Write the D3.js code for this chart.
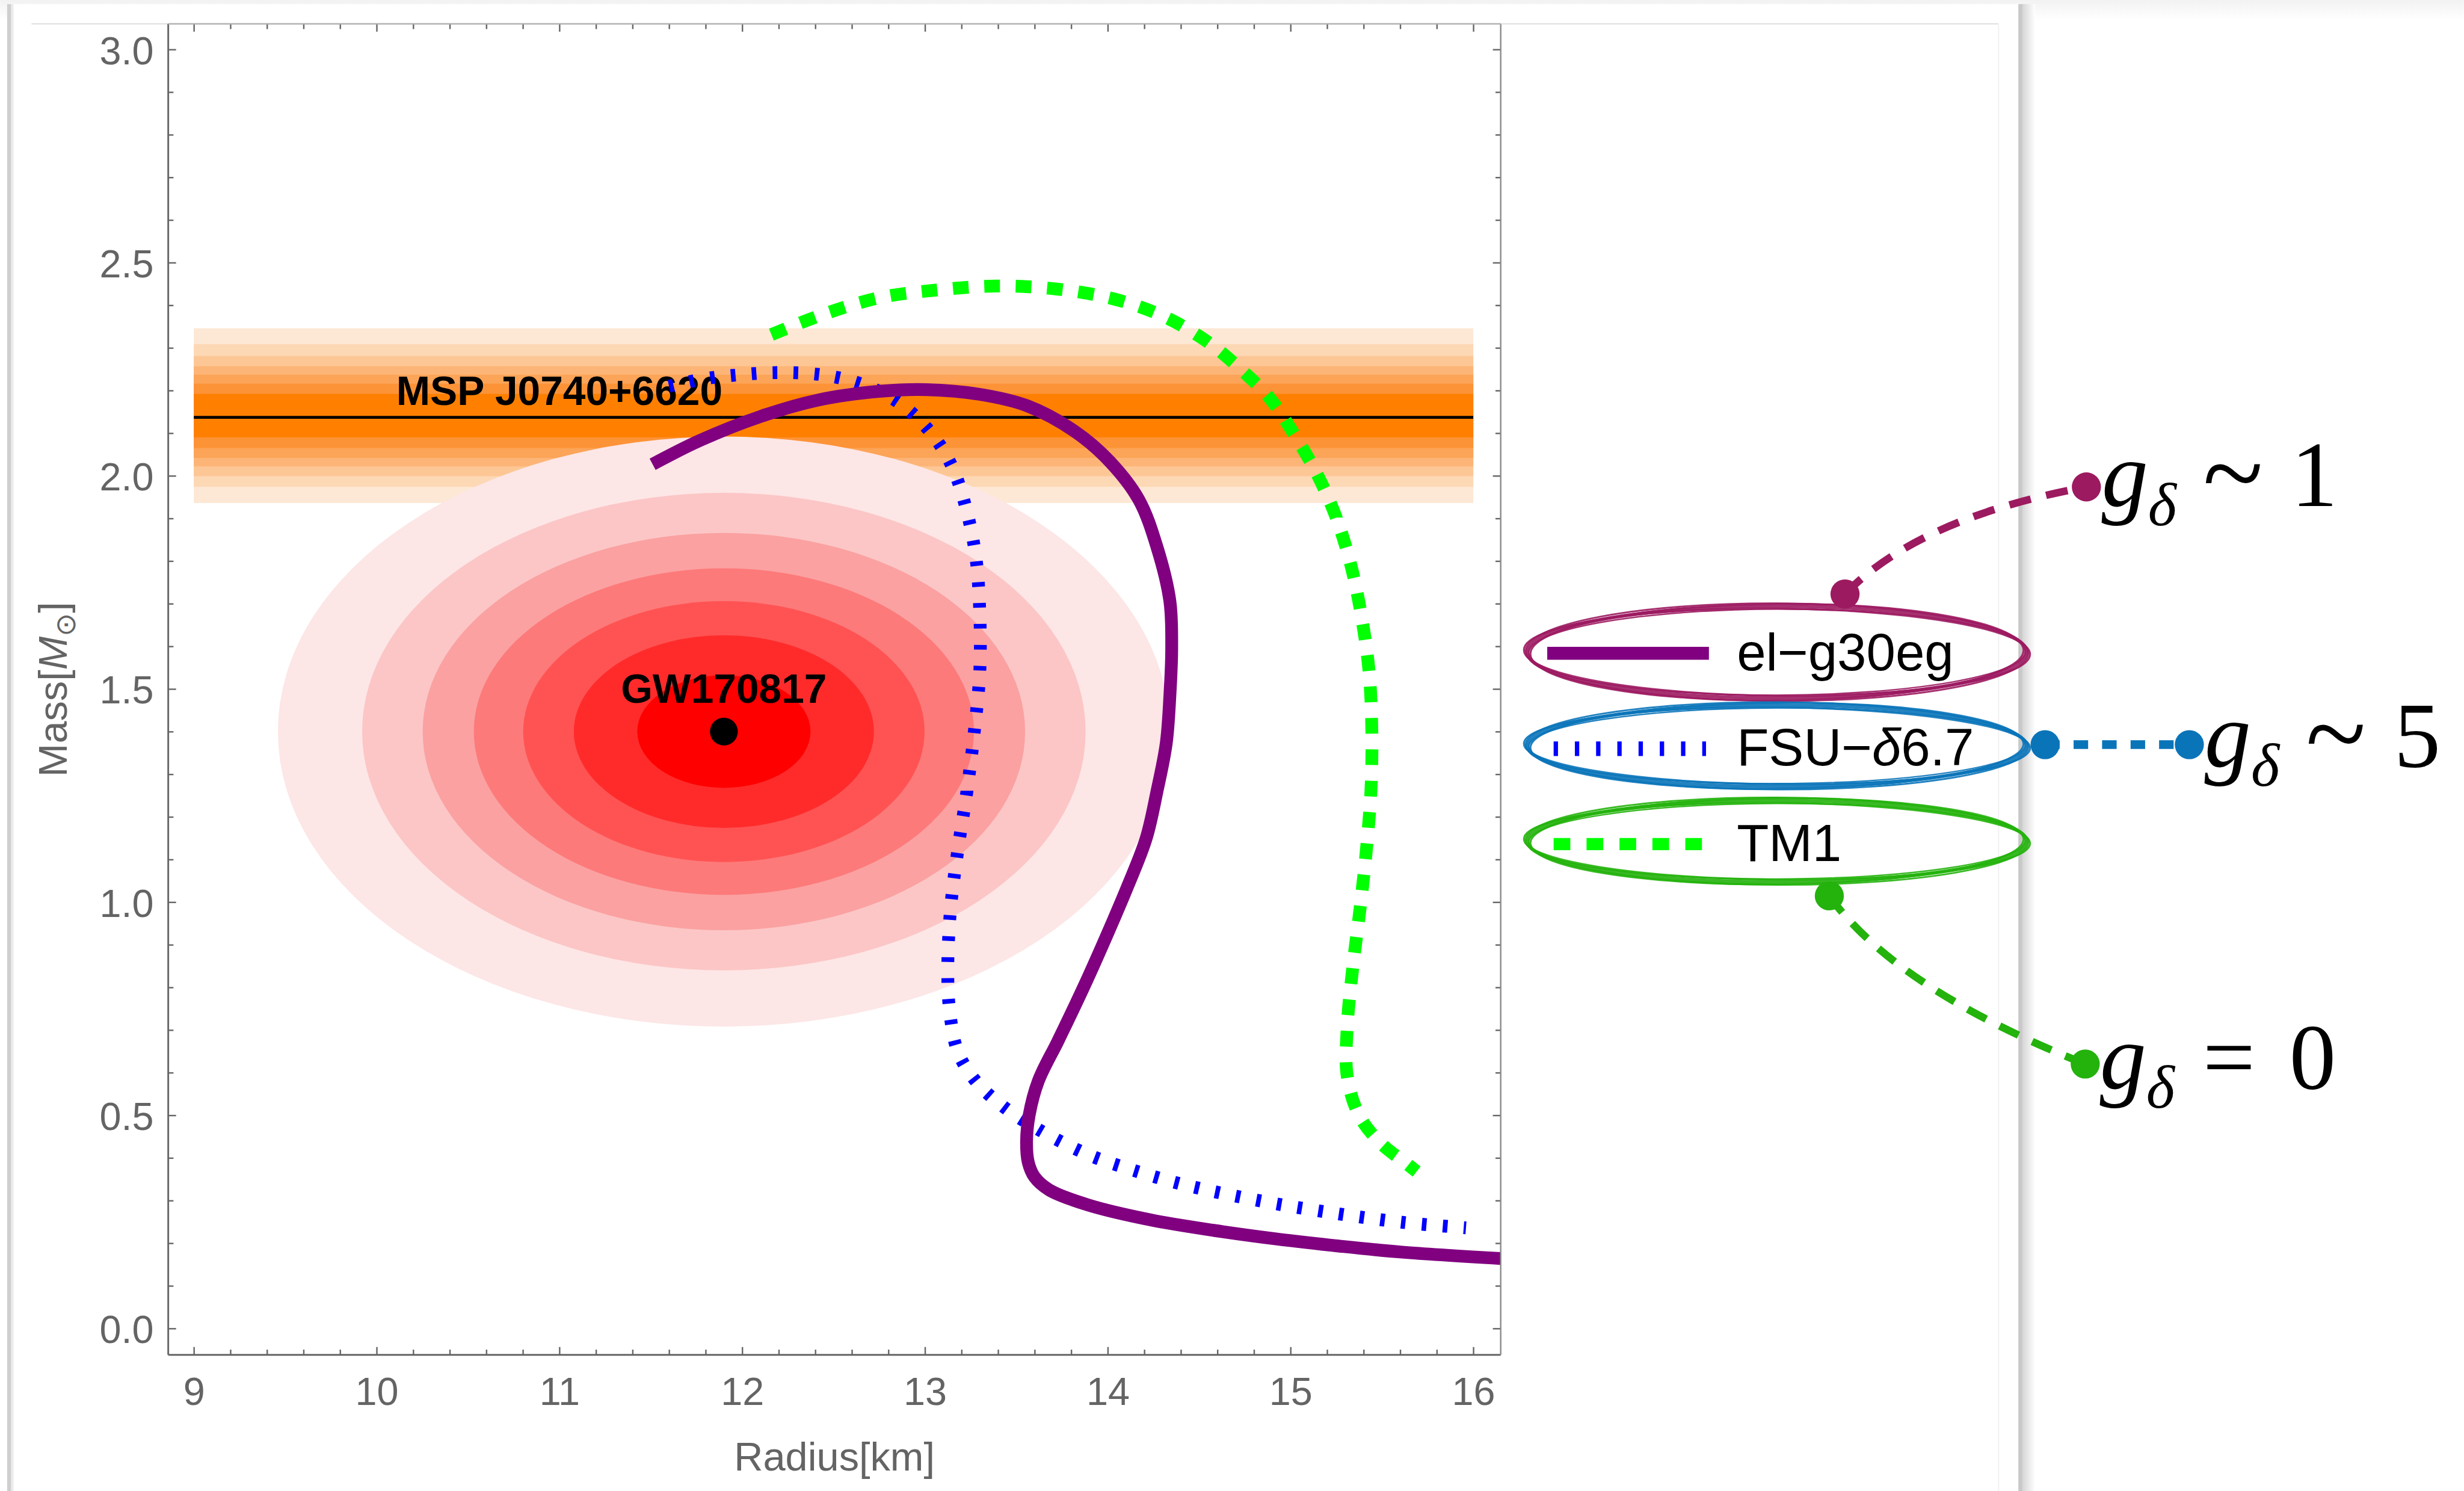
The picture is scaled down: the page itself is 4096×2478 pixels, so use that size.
<!DOCTYPE html>
<html>
<head>
<meta charset="utf-8">
<script src="https://cdn.jsdelivr.net/npm/d3@7"></script>
<style>
  html, body { margin: 0; padding: 0; background: #fff; overflow: hidden; }
</style>
</head>
<body>
<div id="chart"></div>
<script>
// ---- data ----
const radiusTicks = [9, 10, 11, 12, 13, 14, 15, 16];
const massTicks = [0.0, 0.5, 1.0, 1.5, 2.0, 2.5, 3.0];

// el-g30eg (solid purple)
const elRadius = [11.51, 11.77, 12.10, 12.42, 12.75, 13.01, 13.30, 13.56, 13.82, 14.01, 14.17, 14.27, 14.34, 14.35, 14.34, 14.32, 14.27, 14.21, 14.11, 14.00, 13.87, 13.73, 13.62, 13.57, 13.556, 13.565, 13.60, 13.68, 13.89, 14.23, 14.58, 14.92, 15.27, 15.61, 16.15];
const elMass   = [2.027, 2.083, 2.139, 2.178, 2.198, 2.202, 2.191, 2.164, 2.104, 2.034, 1.944, 1.832, 1.706, 1.596, 1.484, 1.372, 1.261, 1.149, 1.038, 0.927, 0.802, 0.676, 0.580, 0.500, 0.440, 0.390, 0.355, 0.325, 0.290, 0.255, 0.230, 0.210, 0.193, 0.179, 0.164];

// FSU-δ6.7 (dotted blue)
const fsuRadius = [11.60, 11.80, 11.965, 12.19, 12.45, 12.68, 12.875, 13.04, 13.15, 13.23, 13.28, 13.30, 13.30, 13.27, 13.23, 13.18, 13.14, 13.125, 13.135, 13.18, 13.28, 13.43, 13.62, 13.88, 14.06, 14.40, 14.85, 15.26, 15.61, 15.96];
const fsuMass   = [2.210, 2.228, 2.236, 2.242, 2.236, 2.211, 2.166, 2.097, 2.020, 1.915, 1.804, 1.679, 1.540, 1.400, 1.261, 1.122, 0.983, 0.844, 0.746, 0.649, 0.579, 0.520, 0.467, 0.410, 0.382, 0.339, 0.298, 0.269, 0.249, 0.236];

// TM1 (dashed green)
const tm1Radius = [12.16, 12.42, 12.745, 13.07, 13.39, 13.72, 14.04, 14.30, 14.53, 14.73, 14.89, 15.02, 15.15, 15.25, 15.33, 15.39, 15.43, 15.445, 15.44, 15.415, 15.38, 15.34, 15.31, 15.31, 15.375, 15.49, 15.64, 15.69];
const tm1Mass   = [2.331, 2.375, 2.417, 2.436, 2.445, 2.438, 2.414, 2.375, 2.319, 2.249, 2.180, 2.097, 2.000, 1.902, 1.791, 1.666, 1.540, 1.400, 1.261, 1.122, 0.983, 0.844, 0.705, 0.593, 0.500, 0.436, 0.385, 0.368];

// MSP J0740+6620 band
const mspMass = 2.137;
const mspRadiusRange = [9.0, 16.0];
const mspUpper = [0.055, 0.079, 0.100, 0.120, 0.144, 0.172, 0.209];
const mspLower = [0.047, 0.072, 0.095, 0.115, 0.138, 0.163, 0.201];
const mspColors = ['#ff8000', '#fd9337', '#fca457', '#fdb577', '#fdc795', '#fdd8b5', '#fde8d5'];

// GW170817 contours
const gwRadius = 11.9;
const gwMass = 1.40;
const gwSemiRadius = [2.44, 1.979, 1.648, 1.368, 1.098, 0.821, 0.474];
const gwSemiMass   = [0.692, 0.560, 0.466, 0.383, 0.306, 0.226, 0.132];
const gwColors = ['#fde6e6', '#fcc6c6', '#fba1a1', '#fd7a7a', '#ff5353', '#ff2b2b', '#ff0000'];

const legendNames = ['el\u2212g30eg', 'FSU\u2212', 'TM1'];
const couplingLabels = [['~', '1'], ['~', '5'], ['=', '0']];
const ringColors = ['#9c1a60', '#0a74b9', '#24b20c'];

// ---- layout (reference pixels, scaled by the viewBox) ----
const W = 4236, H = 2563;
const plot = { left: 289, right: 2580, top: 41, bottom: 2329 };
const axisColor = '#666';
const sans = '"Liberation Sans", Arial, Helvetica, sans-serif';
const serif = '"Liberation Serif", "Times New Roman", "DejaVu Serif", serif';

const svg = d3.select('#chart').append('svg')
  .attr('width', 4096)
  .attr('height', 2478)
  .attr('viewBox', `0 0 ${W} ${H}`)
  .style('display', 'block');

const defs = svg.append('defs');
defs.append('clipPath').attr('id', 'plotclip')
  .append('rect')
  .attr('x', plot.left).attr('y', plot.top)
  .attr('width', plot.right - plot.left).attr('height', plot.bottom - plot.top);

const topFade = defs.append('linearGradient').attr('id', 'topfade')
  .attr('x1', 0).attr('y1', 0).attr('x2', 0).attr('y2', 1);
topFade.append('stop').attr('offset', 0).attr('stop-color', '#f2f2f2');
topFade.append('stop').attr('offset', 1).attr('stop-color', '#ffffff');

const sideFade = defs.append('linearGradient').attr('id', 'sidefade')
  .attr('x1', 0).attr('y1', 0).attr('x2', 1).attr('y2', 0);
sideFade.append('stop').attr('offset', 0).attr('stop-color', '#d6d6d6');
sideFade.append('stop').attr('offset', 1).attr('stop-color', '#ffffff');

// ---- card / screenshot frame ----
svg.append('rect').attr('width', W).attr('height', H).attr('fill', '#fff');
svg.append('rect').attr('x', 0).attr('y', 0).attr('width', W).attr('height', 34).attr('fill', 'url(#topfade)');
svg.append('rect').attr('x', 14).attr('y', 7).attr('width', 3458).attr('height', H - 7).attr('fill', '#fff');
svg.append('rect').attr('x', 12).attr('y', 7).attr('width', 7).attr('height', H - 7).attr('fill', '#cfcfcf');
svg.append('rect').attr('x', 19).attr('y', 7).attr('width', 4).attr('height', H - 7).attr('fill', '#ebebeb');
svg.append('rect').attr('x', 3470).attr('y', 7).attr('width', 7).attr('height', H - 7).attr('fill', '#c9c9c9');
svg.append('rect').attr('x', 3477).attr('y', 7).attr('width', 22).attr('height', H - 7).attr('fill', 'url(#sidefade)');
svg.append('line').attr('x1', 54).attr('x2', 3436).attr('y1', 41).attr('y2', 41)
  .attr('stroke', '#d9d9d9').attr('stroke-width', 2);
svg.append('line').attr('x1', 3436).attr('x2', 3436).attr('y1', 41).attr('y2', H)
  .attr('stroke', '#f1f1f1').attr('stroke-width', 2);

// ---- scales ----
const x = d3.scaleLinear().domain([8.86, 16.15]).range([plot.left, plot.right]);
const y = d3.scaleLinear().domain([-0.062, 3.06]).range([plot.bottom, plot.top]);

const g = svg.append('g');
const inner = g.append('g').attr('clip-path', 'url(#plotclip)');

// MSP band, outermost stripe first
mspColors.map((c, i) => ({ c, up: mspUpper[i], lo: mspLower[i] })).reverse().forEach(s => {
  inner.append('rect')
    .attr('x', x(mspRadiusRange[0]))
    .attr('width', x(mspRadiusRange[1]) - x(mspRadiusRange[0]))
    .attr('y', y(mspMass + s.up))
    .attr('height', y(mspMass - s.lo) - y(mspMass + s.up))
    .attr('fill', s.c);
});

// GW170817 contours
inner.selectAll('.gw')
  .data(gwColors.map((c, i) => ({ c, rr: gwSemiRadius[i], rm: gwSemiMass[i] })))
  .join('ellipse')
  .attr('class', 'gw')
  .attr('cx', x(gwRadius))
  .attr('cy', y(gwMass))
  .attr('rx', d => x(gwRadius + d.rr) - x(gwRadius))
  .attr('ry', d => y(gwMass - d.rm) - y(gwMass))
  .attr('fill', d => d.c);

// MSP centre line and label
inner.append('line')
  .attr('x1', x(mspRadiusRange[0])).attr('x2', x(mspRadiusRange[1]))
  .attr('y1', y(mspMass)).attr('y2', y(mspMass))
  .attr('stroke', '#000').attr('stroke-width', 5);
g.append('text')
  .attr('x', x(11.0)).attr('y', y(mspMass) - 21)
  .attr('text-anchor', 'middle')
  .attr('font-family', sans).attr('font-weight', 'bold').attr('font-size', 70)
  .attr('fill', '#000')
  .text('MSP J0740+6620');

// GW point and label
g.append('circle').attr('cx', x(gwRadius)).attr('cy', y(gwMass)).attr('r', 24).attr('fill', '#000');
g.append('text')
  .attr('x', x(gwRadius)).attr('y', y(gwMass) - 49)
  .attr('text-anchor', 'middle')
  .attr('font-family', sans).attr('font-weight', 'bold').attr('font-size', 70)
  .attr('fill', '#000')
  .text('GW170817');

// M-R curves
const zip = (r, m) => r.map((v, i) => [v, m[i]]);
const series = [
  { pts: zip(elRadius, elMass), color: '#800080', width: 22, dash: null },
  { pts: zip(fsuRadius, fsuMass), color: '#0000ff', width: 22, dash: '8 28' },
  { pts: zip(tm1Radius, tm1Mass), color: '#00ff00', width: 22, dash: '27 27' }
];
const line = d3.line()
  .x(d => x(d[0]))
  .y(d => y(d[1]))
  .curve(d3.curveCatmullRom.alpha(0.5));

const curves = g.append('g').attr('clip-path', 'url(#plotclip)');
curves.selectAll('.curve')
  .data(series.slice().reverse())
  .join('path')
  .attr('class', 'curve')
  .attr('fill', 'none')
  .attr('stroke', d => d.color)
  .attr('stroke-width', d => d.width)
  .attr('stroke-dasharray', d => d.dash)
  .attr('d', d => line(d.pts));

// ---- axes (frame with inward ticks on all sides) ----
const minorX = d3.range(45, 81).map(v => v / 5).filter(v => !radiusTicks.includes(v));
const minorY = d3.range(0, 31).map(v => v / 10).filter(v => !massTicks.some(t => Math.abs(t - v) < 1e-9));

function styleAxis(sel) {
  sel.select('.domain').remove();
  sel.selectAll('.tick line').attr('stroke', axisColor).attr('stroke-width', 2.5);
  sel.selectAll('.tick text')
    .attr('fill', '#646464')
    .attr('font-family', sans)
    .attr('font-size', 67);
}

g.append('g').attr('transform', `translate(0,${plot.bottom})`)
  .call(d3.axisBottom(x).tickValues(radiusTicks).tickSize(-13.5).tickPadding(39).tickFormat(d3.format('d')))
  .call(styleAxis);
g.append('g').attr('transform', `translate(0,${plot.bottom})`)
  .call(d3.axisBottom(x).tickValues(minorX).tickSize(-9).tickFormat(''))
  .call(styleAxis);
g.append('g').attr('transform', `translate(${plot.left},0)`)
  .call(d3.axisLeft(y).tickValues(massTicks).tickSize(-13.5).tickPadding(25).tickFormat(d3.format('.1f')))
  .call(styleAxis)
  .call(s => s.selectAll('.tick text').attr('dy', '0.37em'));
g.append('g').attr('transform', `translate(${plot.left},0)`)
  .call(d3.axisLeft(y).tickValues(minorY).tickSize(-9).tickFormat(''))
  .call(styleAxis);
g.append('g').attr('transform', `translate(0,${plot.top})`)
  .call(d3.axisTop(x).tickValues(radiusTicks).tickSize(-13.5).tickFormat(''))
  .call(styleAxis);
g.append('g').attr('transform', `translate(0,${plot.top})`)
  .call(d3.axisTop(x).tickValues(minorX).tickSize(-9).tickFormat(''))
  .call(styleAxis);
g.append('g').attr('transform', `translate(${plot.right},0)`)
  .call(d3.axisRight(y).tickValues(massTicks).tickSize(-13.5).tickFormat(''))
  .call(styleAxis);
g.append('g').attr('transform', `translate(${plot.right},0)`)
  .call(d3.axisRight(y).tickValues(minorY).tickSize(-9).tickFormat(''))
  .call(styleAxis);

// frame lines
g.append('line').attr('x1', plot.left).attr('x2', plot.right).attr('y1', plot.bottom).attr('y2', plot.bottom)
  .attr('stroke', axisColor).attr('stroke-width', 3);
g.append('line').attr('x1', plot.left).attr('x2', plot.left).attr('y1', plot.top).attr('y2', plot.bottom)
  .attr('stroke', axisColor).attr('stroke-width', 3);
g.append('line').attr('x1', plot.right).attr('x2', plot.right).attr('y1', plot.top).attr('y2', plot.bottom)
  .attr('stroke', '#8a8a8a').attr('stroke-width', 2.5);
g.append('line').attr('x1', plot.left).attr('x2', plot.right).attr('y1', plot.top).attr('y2', plot.top)
  .attr('stroke', '#b0b0b0').attr('stroke-width', 2.5);

// axis titles
g.append('text')
  .attr('x', (plot.left + plot.right) / 2).attr('y', 2528)
  .attr('text-anchor', 'middle')
  .attr('font-family', sans).attr('font-size', 69).attr('fill', '#646464')
  .text('Radius[km]');

const yTitle = g.append('text')
  .attr('transform', `translate(115,${(plot.top + plot.bottom) / 2}) rotate(-90)`)
  .attr('text-anchor', 'middle')
  .attr('font-family', sans).attr('font-size', 69).attr('fill', '#646464');
yTitle.append('tspan').text('Mass[');
yTitle.append('tspan').attr('font-style', 'italic').text('M');
yTitle.append('tspan').attr('font-size', 48).attr('dy', 14).attr('font-family', '"DejaVu Sans", sans-serif').text('\u2299');
yTitle.append('tspan').attr('dy', -14).text(']');

// ---- legend with hand-drawn rings ----
const legendRowY = [1123, 1287, 1451];
const ringCenterY = [1121, 1282, 1446];
const ringRy = [79, 70, 70];
const legend = g.append('g');

series.forEach((s, i) => {
  const cy = ringCenterY[i];
  // sketchy ring: a few slightly offset strokes
  [[0, 0, 0, 6], [6, -4, 0.5, 3.5], [-5, 4, -0.45, 3.5], [3, 5, 0.25, 3], [-2, -5, -0.2, 2.5]].forEach(([drx, dry, rot, sw]) => {
    legend.append('ellipse')
      .attr('cx', 3055).attr('cy', cy)
      .attr('rx', 429 + drx).attr('ry', ringRy[i] + dry)
      .attr('transform', `rotate(${rot},3055,${cy})`)
      .attr('fill', 'none')
      .attr('stroke', ringColors[i])
      .attr('stroke-width', sw)
      .attr('stroke-opacity', 0.9);
  });

  const ly = legendRowY[i];
  const x1 = i === 0 ? 2660 : 2671;
  const x2 = i === 0 ? 2938 : (i === 1 ? 2933 : 2926);
  legend.append('line')
    .attr('x1', x1).attr('x2', x2).attr('y1', ly).attr('y2', ly)
    .attr('stroke', s.color)
    .attr('stroke-width', i === 0 ? 22 : (i === 1 ? 25 : 21))
    .attr('stroke-dasharray', i === 0 ? null : (i === 1 ? '7.5 29' : '28.7 27.9'));

  const t = legend.append('text')
    .attr('x', 2986).attr('y', ly + 29)
    .attr('font-family', sans).attr('font-size', 90).attr('fill', '#000');
  t.append('tspan').text(legendNames[i]);
  if (i === 1) {
    t.append('tspan').attr('font-style', 'italic').text('\u03B4');
    t.append('tspan').text('6.7');
  }
});

// ---- coupling annotations ----
const ann = g.append('g');
const connectors = [
  { d: 'M3172,1021 Q3300,890 3587,837', dots: [[3172, 1021], [3587, 837]], dash: '38 27', w: 13 },
  { d: 'M3516,1280 L3764,1280', dots: [[3516, 1280], [3764, 1280]], dash: '25 24', w: 15 },
  { d: 'M3145,1540 Q3260,1700 3585,1829', dots: [[3145, 1540], [3585, 1829]], dash: '36 26', w: 13 }
];
connectors.forEach((c, i) => {
  ann.append('path')
    .attr('d', c.d)
    .attr('fill', 'none')
    .attr('stroke', ringColors[i])
    .attr('stroke-width', c.w)
    .attr('stroke-dasharray', c.dash);
  c.dots.forEach(p => {
    ann.append('circle').attr('cx', p[0]).attr('cy', p[1]).attr('r', 25).attr('fill', ringColors[i]);
  });
});

const annPos = [[3613, 870], [3790, 1318], [3610, 1871]];
couplingLabels.forEach(([rel, val], i) => {
  const [ax, ay] = annPos[i];
  const isTilde = rel === '~';
  const t = ann.append('text')
    .attr('x', ax).attr('y', ay)
    .attr('font-family', serif).attr('font-size', 160).attr('fill', '#000');
  t.append('tspan').attr('font-style', 'italic').text('g');
  t.append('tspan').attr('font-style', 'italic').attr('font-size', 105).attr('dy', 33).text('\u03B4');
  t.append('tspan').attr('x', ax + (isTilde ? 174 : 177)).attr('dy', isTilde ? -25 : -33)
    .attr('font-size', isTilde ? 192 : 160)
    .text(rel);
  t.append('tspan').attr('x', ax + 326).attr('dy', isTilde ? -8 : 0).attr('font-size', 160).text(val);
});
</script>
</body>
</html>
